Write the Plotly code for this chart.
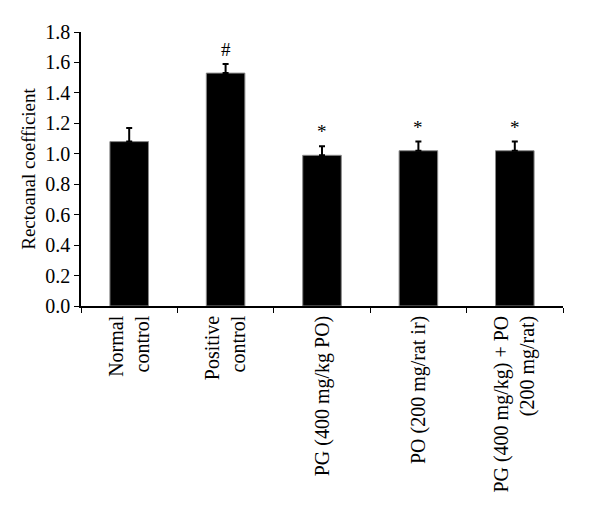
import plotly.graph_objects as go

categories = ["Normal<br>control", "Positive<br>control", "PG (400 mg/kg PO)",
              "PO (200 mg/rat ir)", "PG (400 mg/kg) + PO<br>(200 mg/rat)"]
values = [1.08, 1.53, 0.99, 1.02, 1.02]
errors = [0.09, 0.06, 0.06, 0.06, 0.06]
marks = ["", "#", "*", "*", "*"]
y_ticks = [0.0, 0.2, 0.4, 0.6, 0.8, 1.0, 1.2, 1.4, 1.6, 1.8]

font_family = "Liberation Serif"

fig = go.Figure()
fig.add_trace(go.Bar(
    x=categories, y=values,
    marker=dict(color="black", line=dict(color="#888888", width=1)),
    error_y=dict(type="data", symmetric=False, array=errors,
                 arrayminus=[0] * len(errors), color="black",
                 thickness=2, width=3),
    hoverinfo="skip",
))

for c, v, e, m in zip(categories, values, errors, marks):
    if m:
        fig.add_annotation(x=c, y=v + e, text=m, showarrow=False,
                           yanchor="bottom", yshift=2,
                           font=dict(family=font_family, size=19, color="black"))

fig.update_layout(
    width=600, height=510,
    margin=dict(l=81, r=37, t=32, b=204),
    paper_bgcolor="white", plot_bgcolor="white",
    bargap=0.6, showlegend=False,
    font=dict(family=font_family, size=19, color="black"),
)
fig.update_xaxes(
    type="category", tickangle=-90, showline=True, linecolor="black", linewidth=1.5,
    ticks="outside", tickson="boundaries", ticklen=5, tickcolor="black",
    tickfont=dict(family=font_family, size=20, color="black"),
)
fig.update_yaxes(
    range=[0, 1.8], tickvals=y_ticks, ticktext=[f"{t:.1f}" for t in y_ticks],
    showline=True, linecolor="black", linewidth=1.5, showgrid=False, zeroline=False,
    ticks="outside", ticklen=5, tickcolor="black",
    tickfont=dict(family=font_family, size=20, color="black"),
    title=dict(text="Rectoanal coefficient", standoff=5,
               font=dict(family=font_family, size=19, color="black")),
)

fig.write_html("out.html", config={"displayModeBar": False},
               post_script="document.body.style.margin='0';")
